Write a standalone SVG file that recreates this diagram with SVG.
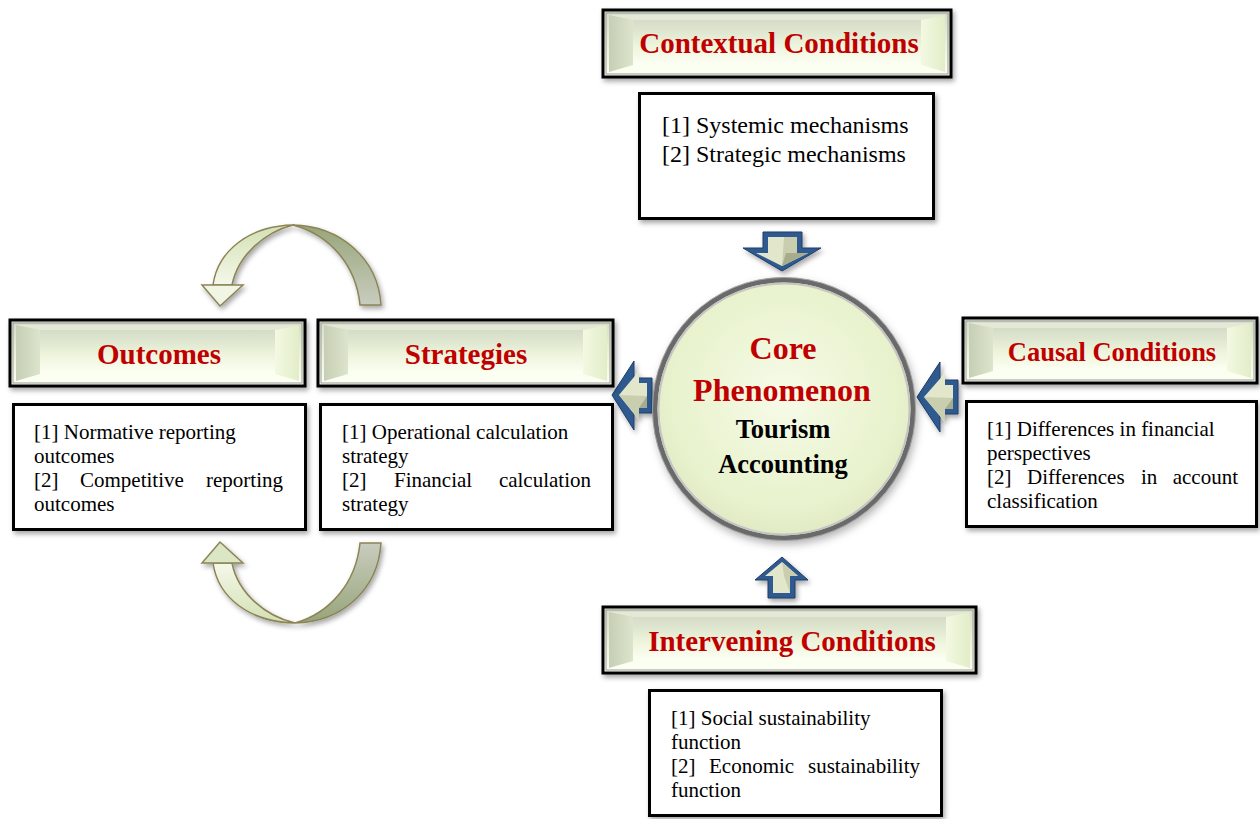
<svg xmlns="http://www.w3.org/2000/svg" width="1260" height="819" viewBox="0 0 1260 819">
<defs>
<style>
.ht{font-family:"Liberation Serif","Times New Roman",serif;font-weight:bold;fill:#C00000;text-anchor:middle}
.bt{font-family:"Liberation Serif","Times New Roman",serif;font-size:21px;fill:#000}
.frame{fill:url(#face);stroke:#000;stroke-width:3}
.fin{fill:none;stroke:#9a9a9a;stroke-width:1}
.bl{fill:url(#bevL)}
.br{fill:url(#bevR)}
.btop{fill:#e3e9d6}
.bbot{fill:#fbfff2}
.fc{fill:url(#face)}
.box{fill:#fff;stroke:#000;stroke-width:3}
.arO{fill:#2f5a90;stroke:#1e3d66;stroke-width:1}
.arI{fill:#e2e7cc}
.arM{fill:#c9cfae}
.arD{fill:#a7ad8c}
.cv{stroke:#8c8455;stroke-width:1.5}
</style>
<linearGradient id="face" x1="0" y1="0" x2="0" y2="1">
<stop offset="0" stop-color="#d4dbc7"/>
<stop offset="0.55" stop-color="#edf4db"/>
<stop offset="1" stop-color="#fdfff4"/>
</linearGradient>
<linearGradient id="bevL" x1="0" y1="0" x2="1" y2="0">
<stop offset="0" stop-color="#c6cfb6"/>
<stop offset="1" stop-color="#dce5cb"/>
</linearGradient>
<linearGradient id="bevR" x1="0" y1="0" x2="1" y2="0">
<stop offset="0" stop-color="#f3f9e2"/>
<stop offset="1" stop-color="#e2edc8"/>
</linearGradient>
<radialGradient id="circF" cx="0.5" cy="0.45" r="0.55">
<stop offset="0" stop-color="#f6fbe8"/>
<stop offset="0.8" stop-color="#e8f2cc"/>
<stop offset="1" stop-color="#dfe9c4"/>
</radialGradient>
<linearGradient id="cvL1" x1="0" y1="0" x2="0" y2="1">
<stop offset="0" stop-color="#d3e0b4"/>
<stop offset="1" stop-color="#f5f8ea"/>
</linearGradient>
<linearGradient id="cvR1" x1="0" y1="0" x2="0" y2="1">
<stop offset="0" stop-color="#97a57a"/>
<stop offset="1" stop-color="#c9ccbf"/>
</linearGradient>
<linearGradient id="cvL2" x1="0" y1="1" x2="0" y2="0">
<stop offset="0" stop-color="#d3e0b4"/>
<stop offset="1" stop-color="#f5f8ea"/>
</linearGradient>
<linearGradient id="cvR2" x1="0" y1="1" x2="0" y2="0">
<stop offset="0" stop-color="#97a57a"/>
<stop offset="1" stop-color="#c9ccbf"/>
</linearGradient>
<filter id="sh" x="-10%" y="-10%" width="125%" height="135%">
<feDropShadow dx="2" dy="3" stdDeviation="2.5" flood-color="#000" flood-opacity="0.35"/>
</filter>
<filter id="shc" x="-10%" y="-10%" width="125%" height="125%">
<feDropShadow dx="2" dy="4" stdDeviation="4" flood-color="#000" flood-opacity="0.3"/>
</filter>
</defs>

<!-- Connectors (block arrows and curved arrows) -->
<g id="connectors">
  <g id="arrow-down" filter="url(#sh)">
    <polygon class="arO" points="763,232 802,232 802,248 821,248 782,271 743,248 763,248"/>
    <polygon class="arI" points="768,237 797,237 797,253 808,253 782,266 756,253 768,253"/>
    <polygon class="arM" points="784,237 797,237 797,253 808,253 782,266"/>
    <polygon class="arD" points="797,253 808,253 782,266 786,253"/>
  </g>
  <g id="arrow-left-strategies" filter="url(#sh)">
    <polygon class="arO" points="652,378 634,378 634,361 612,395 634,430 634,413 652,413"/>
    <polygon class="arI" points="647,383 639,383 639,371 619,395 639,420 639,408 647,408"/>
    <polygon class="arM" points="647,396 619,395 639,420 639,408 647,408"/>
    <polygon class="arD" points="639,408 647,408 647,396"/>
  </g>
  <g id="arrow-left-causal" filter="url(#sh)">
    <polygon class="arO" points="958,380 940,380 940,362 917,397 940,432 940,414 958,414"/>
    <polygon class="arI" points="953,385 945,385 945,373 924,397 945,422 945,409 953,409"/>
    <polygon class="arM" points="953,398 924,397 945,422 945,409 953,409"/>
    <polygon class="arD" points="945,409 953,409 953,398"/>
  </g>
  <g id="arrow-up" filter="url(#sh)">
    <polygon class="arO" points="782,557 808,580 795,580 795,598 768,598 768,580 755,580"/>
    <polygon class="arI" points="782,562 798,576 790,576 790,593 773,593 773,576 765,576"/>
    <polygon class="arM" points="782,562 798,576 790,576 790,593 784,576"/>
  </g>
  <g id="curve-top" filter="url(#sh)">
    <path class="cv" fill="url(#cvR1)" d="M293,225 C340,226 378,258 381,305 L360,305 C356,265 330,235 293,225 Z"/>
    <path class="cv" fill="url(#cvL1)" d="M213,285 C218,250 250,226 293,225 C265,232 238,255 232,285 Z"/>
    <polygon class="cv" fill="#f1f5e4" points="202,285 243,285 220,306"/>
  </g>
  <g id="curve-bottom" filter="url(#sh)">
    <path class="cv" fill="url(#cvR2)" d="M295,623 C342,622 378,590 381,543 L360,543 C356,583 330,613 295,623 Z"/>
    <path class="cv" fill="url(#cvL2)" d="M213,563 C218,598 250,622 295,623 C265,616 238,593 232,563 Z"/>
    <polygon class="cv" fill="#dbe6c4" points="202,563 243,563 220,542"/>
  </g>
</g>

<!-- Contextual Conditions header -->
<g id="contextual-header" transform="translate(603,10)">
  <rect class="frame" x="0" y="0" width="348" height="67" filter="url(#sh)"/>
  <rect class="fin" x="3" y="3" width="342" height="61"/>
  <polygon class="btop" points="6,5 342,5 318,10 30,10"/>
  <polygon class="bbot" points="6,62 30,55 318,55 342,62"/>
  <polygon class="bl" points="6,5 30,10 30,55 6,62"/>
  <polygon class="br" points="342,5 342,62 318,55 318,10"/>
  <rect class="fc" x="30" y="10" width="288" height="45"/>
  <text class="ht" x="176" y="43" font-size="29">Contextual Conditions</text>
</g>
<g id="contextual-box">
  <rect class="box" x="639.5" y="93.5" width="294" height="125" filter="url(#sh)"/>
  <text class="bt" x="662" y="133" style="font-size:24px">[1] Systemic mechanisms</text>
  <text class="bt" x="662" y="162" style="font-size:24px">[2] Strategic mechanisms</text>
</g>

<!-- Outcomes -->
<g id="outcomes-header" transform="translate(10,320)">
  <rect class="frame" x="0" y="0" width="295" height="66" filter="url(#sh)"/>
  <rect class="fin" x="3" y="3" width="289" height="60"/>
  <polygon class="btop" points="6,5 289,5 265,10 30,10"/>
  <polygon class="bbot" points="6,61 30,54 265,54 289,61"/>
  <polygon class="bl" points="6,5 30,10 30,54 6,61"/>
  <polygon class="br" points="289,5 289,61 265,54 265,10"/>
  <rect class="fc" x="30" y="10" width="235" height="44"/>
  <text class="ht" x="149" y="44" font-size="29">Outcomes</text>
</g>
<g id="outcomes-box">
  <rect class="box" x="13.5" y="404.5" width="292" height="125" filter="url(#sh)"/>
  <text class="bt" x="34" y="439">[1] Normative reporting</text>
  <text class="bt" x="34" y="463">outcomes</text>
  <text class="bt" y="487"><tspan x="34">[2]</tspan><tspan x="80">Competitive</tspan></text>
  <text class="bt" x="283" y="487" text-anchor="end">reporting</text>
  <text class="bt" x="34" y="511">outcomes</text>
</g>

<!-- Strategies -->
<g id="strategies-header" transform="translate(318,320)">
  <rect class="frame" x="0" y="0" width="295" height="66" filter="url(#sh)"/>
  <rect class="fin" x="3" y="3" width="289" height="60"/>
  <polygon class="btop" points="6,5 289,5 265,10 30,10"/>
  <polygon class="bbot" points="6,61 30,54 265,54 289,61"/>
  <polygon class="bl" points="6,5 30,10 30,54 6,61"/>
  <polygon class="br" points="289,5 289,61 265,54 265,10"/>
  <rect class="fc" x="30" y="10" width="235" height="44"/>
  <text class="ht" x="148" y="44" font-size="29">Strategies</text>
</g>
<g id="strategies-box">
  <rect class="box" x="320.5" y="404.5" width="292" height="125" filter="url(#sh)"/>
  <text class="bt" x="342" y="439">[1] Operational calculation</text>
  <text class="bt" x="342" y="463">strategy</text>
  <text class="bt" y="487"><tspan x="342">[2]</tspan><tspan x="394">Financial</tspan></text>
  <text class="bt" x="591" y="487" text-anchor="end">calculation</text>
  <text class="bt" x="342" y="511">strategy</text>
</g>

<!-- Core Phenomenon -->
<g id="core">
  <circle cx="784" cy="409" r="129" fill="url(#circF)" stroke="#6a6a6a" stroke-width="5" filter="url(#shc)"/>
  <circle cx="784" cy="409" r="125.5" fill="none" stroke="#c4c4c4" stroke-width="2"/>
  <circle cx="784" cy="409" r="131.5" fill="none" stroke="#a0a0a0" stroke-width="1"/>
  <text class="ht" x="783" y="359" font-size="32">Core</text>
  <text class="ht" x="782" y="401" font-size="32">Phenomenon</text>
  <text class="ht" x="783" y="438" font-size="26.5" style="fill:#000">Tourism</text>
  <text class="ht" x="783" y="473" font-size="26.5" style="fill:#000">Accounting</text>
</g>

<!-- Causal Conditions -->
<g id="causal-header" transform="translate(963,318)">
  <rect class="frame" x="0" y="0" width="294" height="65" filter="url(#sh)"/>
  <rect class="fin" x="3" y="3" width="288" height="59"/>
  <polygon class="btop" points="6,5 288,5 264,10 30,10"/>
  <polygon class="bbot" points="6,60 30,53 264,53 288,60"/>
  <polygon class="bl" points="6,5 30,10 30,53 6,60"/>
  <polygon class="br" points="288,5 288,60 264,53 264,10"/>
  <rect class="fc" x="30" y="10" width="234" height="43"/>
  <text class="ht" x="149" y="43" font-size="26.5">Causal Conditions</text>
</g>
<g id="causal-box">
  <rect class="box" x="966.5" y="401.5" width="290" height="125" filter="url(#sh)"/>
  <text class="bt" x="987" y="436">[1] Differences in financial</text>
  <text class="bt" x="987" y="460">perspectives</text>
  <text class="bt" y="484"><tspan x="987">[2]</tspan><tspan x="1027">Differences</tspan><tspan x="1141">in</tspan></text>
  <text class="bt" x="1238" y="484" text-anchor="end">account</text>
  <text class="bt" x="987" y="508">classification</text>
</g>

<!-- Intervening Conditions -->
<g id="intervening-header" transform="translate(603,607)">
  <rect class="frame" x="0" y="0" width="373" height="66" filter="url(#sh)"/>
  <rect class="fin" x="3" y="3" width="367" height="60"/>
  <polygon class="btop" points="6,5 367,5 343,10 30,10"/>
  <polygon class="bbot" points="6,61 30,54 343,54 367,61"/>
  <polygon class="bl" points="6,5 30,10 30,54 6,61"/>
  <polygon class="br" points="367,5 367,61 343,54 343,10"/>
  <rect class="fc" x="30" y="10" width="313" height="44"/>
  <text class="ht" x="189" y="44" font-size="29">Intervening Conditions</text>
</g>
<g id="intervening-box">
  <rect class="box" x="649.5" y="690.5" width="292" height="125" filter="url(#sh)"/>
  <text class="bt" x="671" y="725">[1] Social sustainability</text>
  <text class="bt" x="671" y="749">function</text>
  <text class="bt" y="773"><tspan x="671">[2]</tspan><tspan x="709">Economic</tspan></text>
  <text class="bt" x="920" y="773" text-anchor="end">sustainability</text>
  <text class="bt" x="671" y="797">function</text>
</g>
</svg>
